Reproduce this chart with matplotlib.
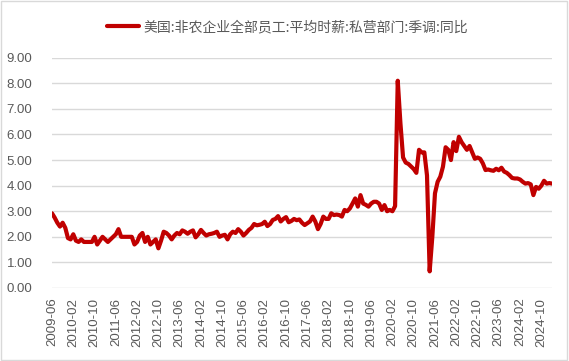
import matplotlib
matplotlib.use("Agg")
from matplotlib import pyplot as plt
from matplotlib.patches import Rectangle
import numpy as np
import pandas as pd

series_name = "美国:非农企业全部员工:平均时薪:私营部门:季调:同比"

# monthly YoY %, 2009-06 .. 2025-02
yoy = [
    2.92, 2.75, 2.55, 2.40, 2.55, 2.35, 1.95,                                      # 2009
    1.90, 2.10, 1.85, 1.80, 1.90, 1.80, 1.80, 1.80, 1.80, 2.00, 1.70, 1.85,        # 2010
    2.00, 1.90, 1.80, 1.90, 2.00, 2.10, 2.30, 2.00, 2.00, 2.00, 2.00, 2.00,        # 2011
    1.70, 1.80, 2.05, 2.15, 1.80, 2.00, 1.70, 1.80, 1.90, 1.55, 1.85, 2.20,        # 2012
    2.15, 2.05, 1.90, 2.05, 2.15, 2.10, 2.25, 2.20, 2.12, 2.20, 2.25, 1.98,        # 2013
    2.10, 2.27, 2.15, 2.05, 2.10, 2.12, 2.15, 2.20, 2.00, 2.05, 2.08, 1.90,        # 2014
    2.10, 2.20, 2.15, 2.30, 2.20, 2.05, 2.15, 2.27, 2.35, 2.50, 2.45, 2.47,        # 2015
    2.50, 2.59, 2.42, 2.50, 2.66, 2.70, 2.81, 2.60, 2.70, 2.77, 2.57, 2.62,        # 2016
    2.70, 2.65, 2.68, 2.55, 2.46, 2.53, 2.60, 2.79, 2.60, 2.30, 2.50, 2.79,        # 2017
    2.70, 2.70, 2.92, 2.85, 2.87, 2.85, 2.79, 3.05, 3.00, 3.11, 3.30, 3.50,        # 2018
    3.18, 3.63, 3.30, 3.25, 3.18, 3.30, 3.37, 3.37, 3.30, 3.05, 3.24, 3.00,        # 2019
    3.05, 3.00, 3.20, 8.10, 6.45, 5.10, 4.90, 4.85, 4.75, 4.65, 4.50, 5.40,        # 2020
    5.30, 5.30, 4.40, 0.65, 2.00, 3.70, 4.15, 4.35, 4.74, 5.50, 5.40, 5.00,        # 2021
    5.70, 5.35, 5.91, 5.70, 5.55, 5.40, 5.55, 5.30, 5.05, 5.10, 5.05, 4.87,        # 2022
    4.61, 4.63, 4.60, 4.58, 4.66, 4.60, 4.70, 4.55, 4.50, 4.41, 4.30, 4.28,        # 2023
    4.28, 4.24, 4.15, 4.08, 4.10, 4.05, 3.63, 3.95, 3.88, 4.00, 4.19, 4.08,        # 2024
    4.10, 4.08,                                                                    # 2025
]
months = pd.date_range("2009-06", periods=len(yoy), freq="MS").strftime("%Y-%m").tolist()

grey = "#595959"
plt.rcParams["font.family"] = ["Liberation Sans", "Noto Sans CJK SC", "DejaVu Sans"]

fig = plt.figure(figsize=(5.69, 3.61), dpi=100)
ax = fig.add_axes([52 / 569, 1 - 288 / 361, 500 / 569, (288 - 57.7) / 361])

x = np.arange(len(yoy))
line, = ax.plot(x, yoy, color="#C00000", lw=3.0, solid_joinstyle="round",
                solid_capstyle="round", zorder=3)

ax.set_ylim(0, 9)
ax.set_yticks(np.arange(0, 10, 1))
ax.set_yticklabels([f"{v:.2f}" for v in range(10)])
ax.set_xlim(0, len(yoy) - 1)
ax.set_xticks(x[::8])
ax.set_xticklabels(months[::8], rotation=90)
ax.tick_params(axis="both", length=0, colors=grey, labelsize=9.5)
ax.tick_params(axis="y", pad=14)
ax.tick_params(axis="x", pad=7)
ax.grid(axis="y", color="#D9D9D9", lw=1)
ax.set_axisbelow(True)
for s in ax.spines.values():
    s.set_visible(False)

fig.legend([line], [series_name], loc="center", bbox_to_anchor=(0.505, 0.925),
           frameon=False, handlelength=2.3, handletextpad=0.3,
           prop={"family": ["Noto Sans CJK SC", "DejaVu Sans"], "size": 10},
           labelcolor=grey)

fig.patches.append(Rectangle((0.002, 0.003), 0.995, 0.994, transform=fig.transFigure,
                             fill=False, edgecolor="#D9D9D9", lw=1))

fig.savefig("out.png", dpi=100)
